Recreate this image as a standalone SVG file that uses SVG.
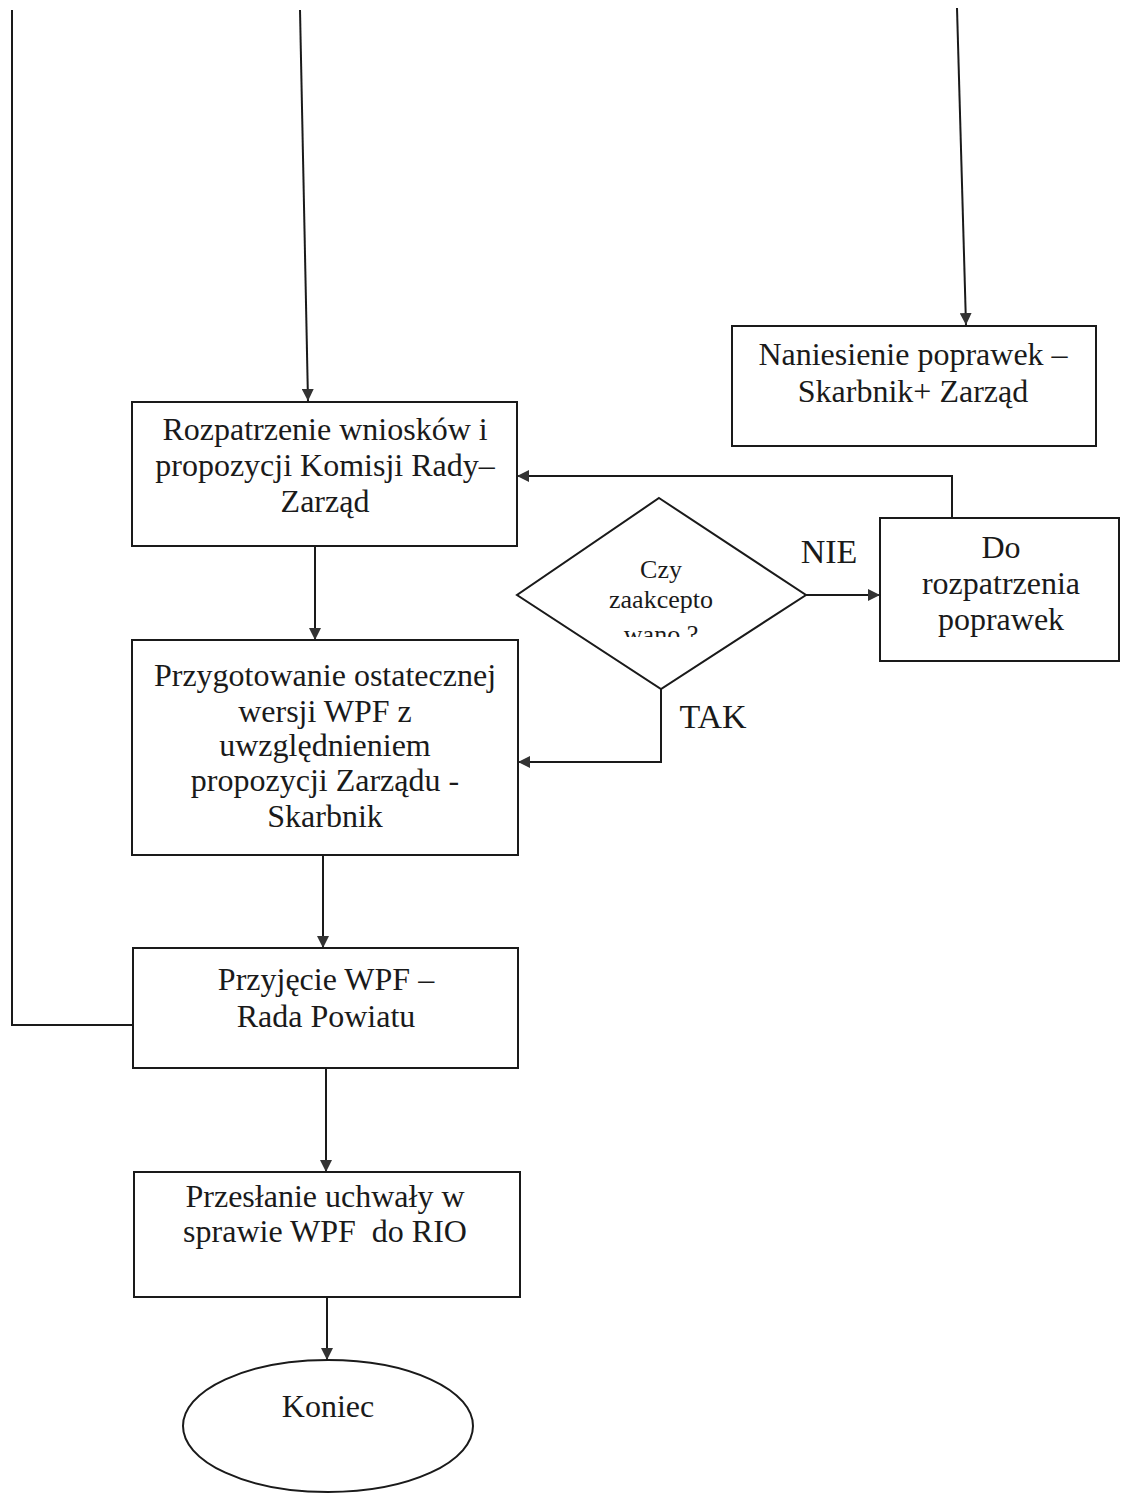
<svg xmlns="http://www.w3.org/2000/svg" width="1123" height="1494" viewBox="0 0 1123 1494">
  <style>
    .box { fill: #fff; stroke: #1a1a1a; stroke-width: 2; }
    .lbl { font-family: "Liberation Serif", "Times New Roman", "DejaVu Serif", serif; font-size: 32px; fill: #1a1a1a; text-anchor: middle; }
    .small { font-size: 26px; }
    .big { font-size: 34px; }
    .edge { fill: none; stroke: #1a1a1a; stroke-width: 2; }
  </style>
  <defs>
    <marker id="arrow" markerWidth="12" markerHeight="12" viewBox="0 0 12 12" refX="12" refY="6" orient="auto" markerUnits="userSpaceOnUse">
      <path d="M0,0 L12,6 L0,12 Z" fill="#333"/>
    </marker>
    <clipPath id="diamondClip">
      <rect x="500" y="480" width="320" height="157"/>
    </clipPath>
  </defs>
  <rect width="1123" height="1494" fill="#fff"/>

  <g id="connectors">
    <!-- return line from council adoption, running up the left margin -->
    <path class="edge" d="M133,1025 L12,1025 L12,10"/>
    <!-- incoming line to review of proposals -->
    <path class="edge" d="M300,10 L308,401" marker-end="url(#arrow)"/>
    <!-- incoming line to corrections box -->
    <path class="edge" d="M957,8 L966,325" marker-end="url(#arrow)"/>
    <!-- review -> final version -->
    <path class="edge" d="M315,546 L315,640" marker-end="url(#arrow)"/>
    <!-- final version -> adoption -->
    <path class="edge" d="M323,855 L323,948" marker-end="url(#arrow)"/>
    <!-- adoption -> sending to RIO -->
    <path class="edge" d="M326,1068 L326,1172" marker-end="url(#arrow)"/>
    <!-- sending -> end -->
    <path class="edge" d="M327,1297 L327,1360" marker-end="url(#arrow)"/>
    <!-- decision NIE -> corrections review -->
    <path class="edge" d="M806,595 L880,595" marker-end="url(#arrow)"/>
    <!-- corrections review back to review of proposals -->
    <path class="edge" d="M952,518 L952,476 L517,476" marker-end="url(#arrow)"/>
    <!-- decision TAK -> final version -->
    <path class="edge" d="M661,689 L661,762 L518,762" marker-end="url(#arrow)"/>
  </g>

  <g id="naniesienie">
    <rect class="box" x="732" y="326" width="364" height="120"/>
    <text class="lbl" x="913" y="365">Naniesienie poprawek –</text>
    <text class="lbl" x="913" y="402">Skarbnik+ Zarząd</text>
  </g>

  <g id="rozpatrzenie">
    <rect class="box" x="132" y="402" width="385" height="144"/>
    <text class="lbl" x="325" y="440">Rozpatrzenie wniosków i</text>
    <text class="lbl" x="325" y="476">propozycji Komisji Rady–</text>
    <text class="lbl" x="325" y="512">Zarząd</text>
  </g>

  <g id="decyzja">
    <polygon class="box" points="659,498 806,595 661,689 517,595"/>
    <g clip-path="url(#diamondClip)">
      <text class="lbl small" x="661" y="578">Czy</text>
      <text class="lbl small" x="661" y="608">zaakcepto</text>
      <text class="lbl small" x="661" y="643">wano ?</text>
    </g>
  </g>

  <g id="nie-label">
    <text class="lbl big" x="829" y="563">NIE</text>
  </g>
  <g id="tak-label">
    <text class="lbl big" x="713" y="728">TAK</text>
  </g>

  <g id="do-rozpatrzenia">
    <rect class="box" x="880" y="518" width="239" height="143"/>
    <text class="lbl" x="1001" y="558">Do</text>
    <text class="lbl" x="1001" y="594">rozpatrzenia</text>
    <text class="lbl" x="1001" y="630">poprawek</text>
  </g>

  <g id="przygotowanie">
    <rect class="box" x="132" y="640" width="386" height="215"/>
    <text class="lbl" x="325" y="686">Przygotowanie ostatecznej</text>
    <text class="lbl" x="325" y="722">wersji WPF z</text>
    <text class="lbl" x="325" y="756">uwzględnieniem</text>
    <text class="lbl" x="325" y="791">propozycji Zarządu -</text>
    <text class="lbl" x="325" y="827">Skarbnik</text>
  </g>

  <g id="przyjecie">
    <rect class="box" x="133" y="948" width="385" height="120"/>
    <text class="lbl" x="326" y="990">Przyjęcie WPF –</text>
    <text class="lbl" x="326" y="1027">Rada Powiatu</text>
  </g>

  <g id="przeslanie">
    <rect class="box" x="134" y="1172" width="386" height="125"/>
    <text class="lbl" x="325" y="1207">Przesłanie uchwały w</text>
    <text class="lbl" x="325" y="1242" xml:space="preserve">sprawie WPF  do RIO</text>
  </g>

  <g id="koniec">
    <ellipse class="box" cx="328" cy="1426" rx="145" ry="66"/>
    <text class="lbl" x="328" y="1417">Koniec</text>
  </g>
</svg>
